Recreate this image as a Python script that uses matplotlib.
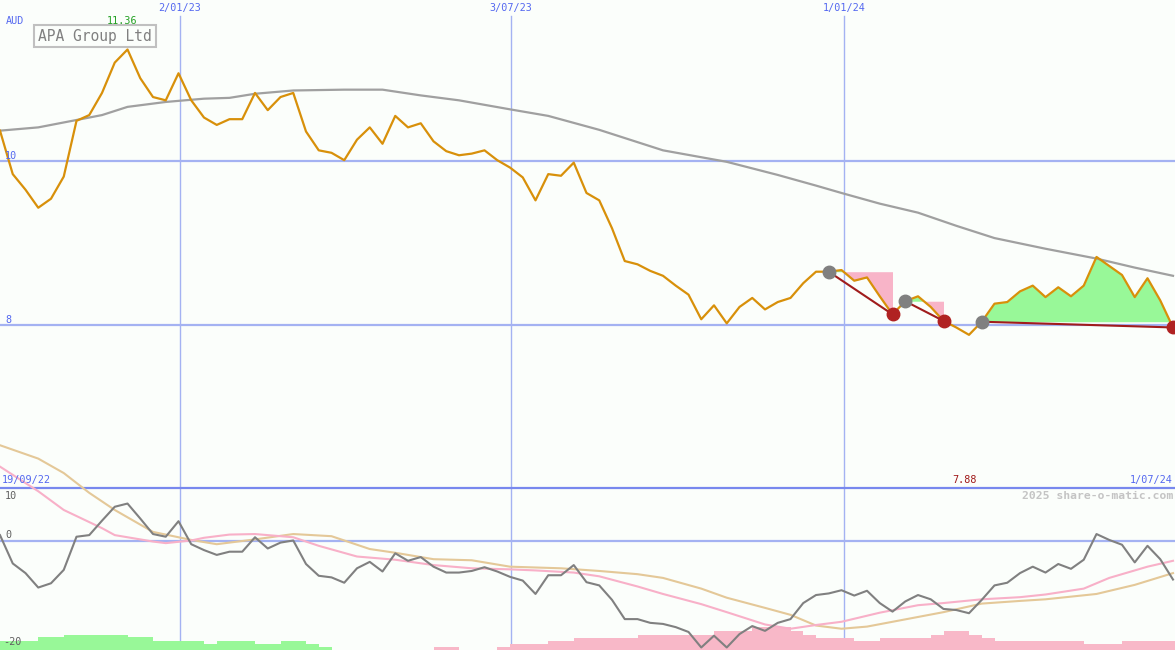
import numpy as np
import matplotlib
matplotlib.use('Agg')
import matplotlib.pyplot as plt

# Weekly closing price (AUD), 19/09/22 .. 1/07/24
price = [10.37, 9.84, 9.65, 9.43, 9.54, 9.81, 10.49, 10.56, 10.83, 11.20,
         11.36, 11.01, 10.78, 10.74, 11.07, 10.74, 10.53, 10.44, 10.51, 10.51,
         10.83, 10.62, 10.78, 10.83, 10.36, 10.13, 10.10, 10.01, 10.26, 10.41,
         10.21, 10.55, 10.41, 10.46, 10.24, 10.12, 10.07, 10.09, 10.13, 10.01,
         9.92, 9.80, 9.52, 9.84, 9.82, 9.98, 9.61, 9.52, 9.18, 8.78,
         8.74, 8.66, 8.60, 8.48, 8.37, 8.07, 8.24, 8.02, 8.22, 8.33,
         8.19, 8.28, 8.33, 8.51, 8.65, 8.65, 8.67, 8.54, 8.58, 8.35,
         8.13, 8.29, 8.35, 8.22, 8.05, 7.97, 7.88, 8.04, 8.26, 8.28,
         8.41, 8.48, 8.34, 8.46, 8.35, 8.48, 8.83, 8.72, 8.61, 8.34,
         8.57, 8.30, 7.97]

# long moving average (grey), read at selected weeks
ma_week = [0, 3, 5, 8, 10, 13, 16, 18, 20, 23, 27, 30, 33, 36, 40, 43, 47, 52,
           57, 61, 64, 66, 69, 72, 75, 78, 82, 86, 89, 92]
ma_price = [10.37, 10.41, 10.47, 10.56, 10.66, 10.72, 10.76, 10.77, 10.82, 10.86,
            10.87, 10.87, 10.80, 10.74, 10.63, 10.55, 10.38, 10.13, 9.99, 9.83,
            9.70, 9.61, 9.48, 9.37, 9.21, 9.06, 8.93, 8.81, 8.70, 8.60]

# oscillator panel
osc = [1.1, -4.2, -6.0, -8.7, -7.9, -5.4, 0.8, 1.1, 3.8, 6.4,
       7.0, 4.2, 1.3, 0.8, 3.7, -0.6, -1.7, -2.6, -2.0, -2.0,
       0.7, -1.4, -0.3, 0.1, -4.3, -6.5, -6.8, -7.8, -5.1, -3.9,
       -5.7, -2.3, -3.7, -3.0, -4.8, -5.9, -5.9, -5.6, -4.9, -5.7,
       -6.7, -7.4, -9.9, -6.4, -6.4, -4.5, -7.7, -8.3, -11.0, -14.6,
       -14.6, -15.3, -15.5, -16.1, -17.0, -19.9, -17.7, -19.9, -17.4, -15.9,
       -16.8, -15.3, -14.6, -11.6, -10.1, -9.8, -9.2, -10.2, -9.3, -11.6,
       -13.2, -11.3, -10.1, -10.9, -12.7, -12.9, -13.5, -11.0, -8.3, -7.8,
       -6.0, -4.8, -5.9, -4.3, -5.2, -3.5, 1.3, 0.2, -0.7, -4.0,
       -0.9, -3.4, -7.2]

pink_week = [0, 3, 5, 8, 9, 12, 13, 15, 16, 18, 20, 23, 25, 28, 31, 34, 37, 40, 42,
             45, 47, 50, 52, 55, 57, 60, 62, 64, 66, 69, 72, 74, 77, 80, 82, 85,
             87, 90, 92]
pink_val = [13.9, 9.3, 5.8, 2.4, 1.1, -0.1, -0.4, 0.1, 0.6, 1.2, 1.3, 0.7, -0.9,
            -2.9, -3.5, -4.5, -5.1, -5.3, -5.5, -5.9, -6.6, -8.5, -9.9, -11.8,
            -13.3, -15.6, -16.4, -15.7, -15.1, -13.4, -12.0, -11.6, -10.9, -10.5,
            -10.0, -8.9, -6.9, -4.8, -3.7]

tan_week = [0, 3, 5, 7, 9, 12, 15, 17, 20, 23, 26, 29, 31, 34, 37, 40, 44, 47, 50,
            52, 55, 57, 60, 62, 64, 66, 68, 70, 74, 77, 80, 82, 86, 89, 92]
tan_val = [17.9, 15.4, 12.7, 9.0, 5.8, 1.7, 0.2, -0.6, 0.3, 1.3, 0.9, -1.5, -2.2,
           -3.4, -3.6, -4.8, -5.1, -5.6, -6.2, -6.9, -8.9, -10.6, -12.5, -13.8,
           -15.8, -16.4, -16.0, -15.1, -13.3, -11.7, -11.2, -10.9, -9.9, -8.2, -6.0]

# weekly strength bars (+ green, - pink)
bars = ([2.9] * 3 + [3.9] * 2 + [4.7] * 5 + [3.9] * 2 + [2.9] * 4 + [1.9] + [2.9] * 3
        + [1.9] * 2 + [2.9] * 2 + [1.9] + [1.0] + [0] * 8 + [-0.8] * 2 + [0] * 3
        + [-0.8] + [-1.9] * 3 + [-2.8] * 2 + [-3.8] * 5 + [-4.6] * 6 + [-5.8] * 3
        + [-7.0] * 3 + [-5.8] + [-4.6] + [-3.8] * 3 + [-2.8] * 2 + [-3.8] * 4
        + [-4.6] + [-5.8] * 2 + [-4.6] + [-3.8] + [-2.8] * 7 + [-1.9] * 3 + [-2.8] * 5)

# trades: entry week, exit week
entries = [65, 71, 77]
exits = [70, 74, 92]

date_pos = [14.1, 40.1, 66.2]
date_labels = ['2/01/23', '3/07/23', '1/01/24']
start_label, end_label = '19/09/22', '1/07/24'

BG = '#fbfefb'
GRID = '#a4b2f2'
BLUE = '#5468f0'
MONO = 'DejaVu Sans Mono'

W, H = 1175, 650
fig = plt.figure(figsize=(W / 100, H / 100), dpi=100)
fig.patch.set_facecolor(BG)

x = np.arange(len(price))
xmax = W / 12.75

# price panel (full figure, 10 at y=161px, 8 at y=325px)
ax = fig.add_axes([0, 0, 1, 1])
ax.set_facecolor(BG)
ax.set_xlim(0, xmax)
ax.set_ylim(10 - (H - 161) / 82, 10 + 161 / 82)
ax.axis('off')

for p in date_pos:
    ax.axvline(p, ymin=0, ymax=1 - 16 / H, color=GRID, lw=1.0, zorder=1)
    
ax.axhline(10, color=GRID, lw=1.6, zorder=1)
ax.axhline(8, color=GRID, lw=1.6, zorder=1)

pr = np.array(price)
for e, xo in zip(entries, exits):
    xs = x[e:xo + 1]
    ys = pr[e:xo + 1]
    lvl = price[e]
    ax.fill_between(xs, ys, lvl, where=ys >= lvl, interpolate=True,
                    color='#98f898', lw=0, zorder=2)
    ax.fill_between(xs, ys, lvl, where=ys < lvl, interpolate=True,
                    color='#f8b4c8', lw=0, zorder=2)

ax.plot(ma_week, ma_price, color='#a0a0a0', lw=1.6, zorder=3)
ax.plot(x, price, color='#d8900a', lw=1.6, zorder=4)

for e, xo in zip(entries, exits):
    ax.plot([e, xo], [price[e], price[xo]], color='#a01c1c', lw=1.5, zorder=5)
    ax.plot(e, price[e], 'o', ms=9, color='#808080', mec='#808080', zorder=6)
    ax.plot(xo, price[xo], 'o', ms=9, color='#b02222', mec='#b02222', zorder=6)

# bars along the bottom
axb = fig.add_axes([0, 0, 1, 163 / H])
axb.set_xlim(0, xmax)
axb.set_ylim(0, 163 / 3.26)
axb.axis('off')
bv = np.array(bars)
axb.bar(x, np.abs(bv), width=1.0, align='edge',
        color=np.where(bv >= 0, '#98f898', '#f8b8c8'), lw=0)

# oscillator panel (0 at y=541px, 10 at y=487.5px)
ax2 = fig.add_axes([0, 0, 1, 1])
ax2.set_xlim(0, xmax)
ax2.set_ylim((541 - H) / 5.35, 541 / 5.35)
ax2.axis('off')
ax2.patch.set_alpha(0)
ax2.axhline(10, color='#7888ee', lw=1.6)
ax2.axhline(0, color=GRID, lw=1.6)
ax2.plot(tan_week, tan_val, color='#e4c898', lw=1.5)
ax2.plot(pink_week, pink_val, color='#f8b0c8', lw=1.5)
ax2.plot(x, osc, color='#808080', lw=1.5)

# texts
def px(xp, yp, s, **kw):
    fig.text(xp / W, 1 - yp / H, s, family=MONO, va='center', **kw)

px(6, 21, 'AUD', color=BLUE, fontsize=7.3)
px(122, 21, f'{max(price):.2f}', color='#22a022', fontsize=7.3, ha='center')
fig.text(95 / W, 1 - 36 / H, 'APA Group Ltd', family=MONO, fontsize=10.5,
         color='#808080', ha='center', va='center',
         bbox=dict(boxstyle='square,pad=0.25', fc=BG, ec='#c0c0c0', lw=1.5))
for p, lab in zip(date_pos, date_labels):
    px(p * 12.75, 8, lab, color=BLUE, fontsize=7.3, ha='center')
px(5, 156, '10', color=BLUE, fontsize=7.3)
px(5, 320, '8', color=BLUE, fontsize=7.3)
px(2, 480, start_label, color=BLUE, fontsize=7.3)
px(1173, 480, end_label, color=BLUE, fontsize=7.3, ha='right')
px(965, 480, f'{min(price):.2f}', color='#a01818', fontsize=7.3, ha='center')
px(1173, 496, '2025 share-o-matic.com', color='#c4c4c4', fontsize=8.2,
   ha='right', weight='bold')
px(5, 496, '10', color='#606060', fontsize=7.3)
px(5, 535, '0', color='#606060', fontsize=7.3)
px(3, 642, '-20', color='#606060', fontsize=7.3)

fig.savefig('out.png', dpi=100, facecolor=BG)
